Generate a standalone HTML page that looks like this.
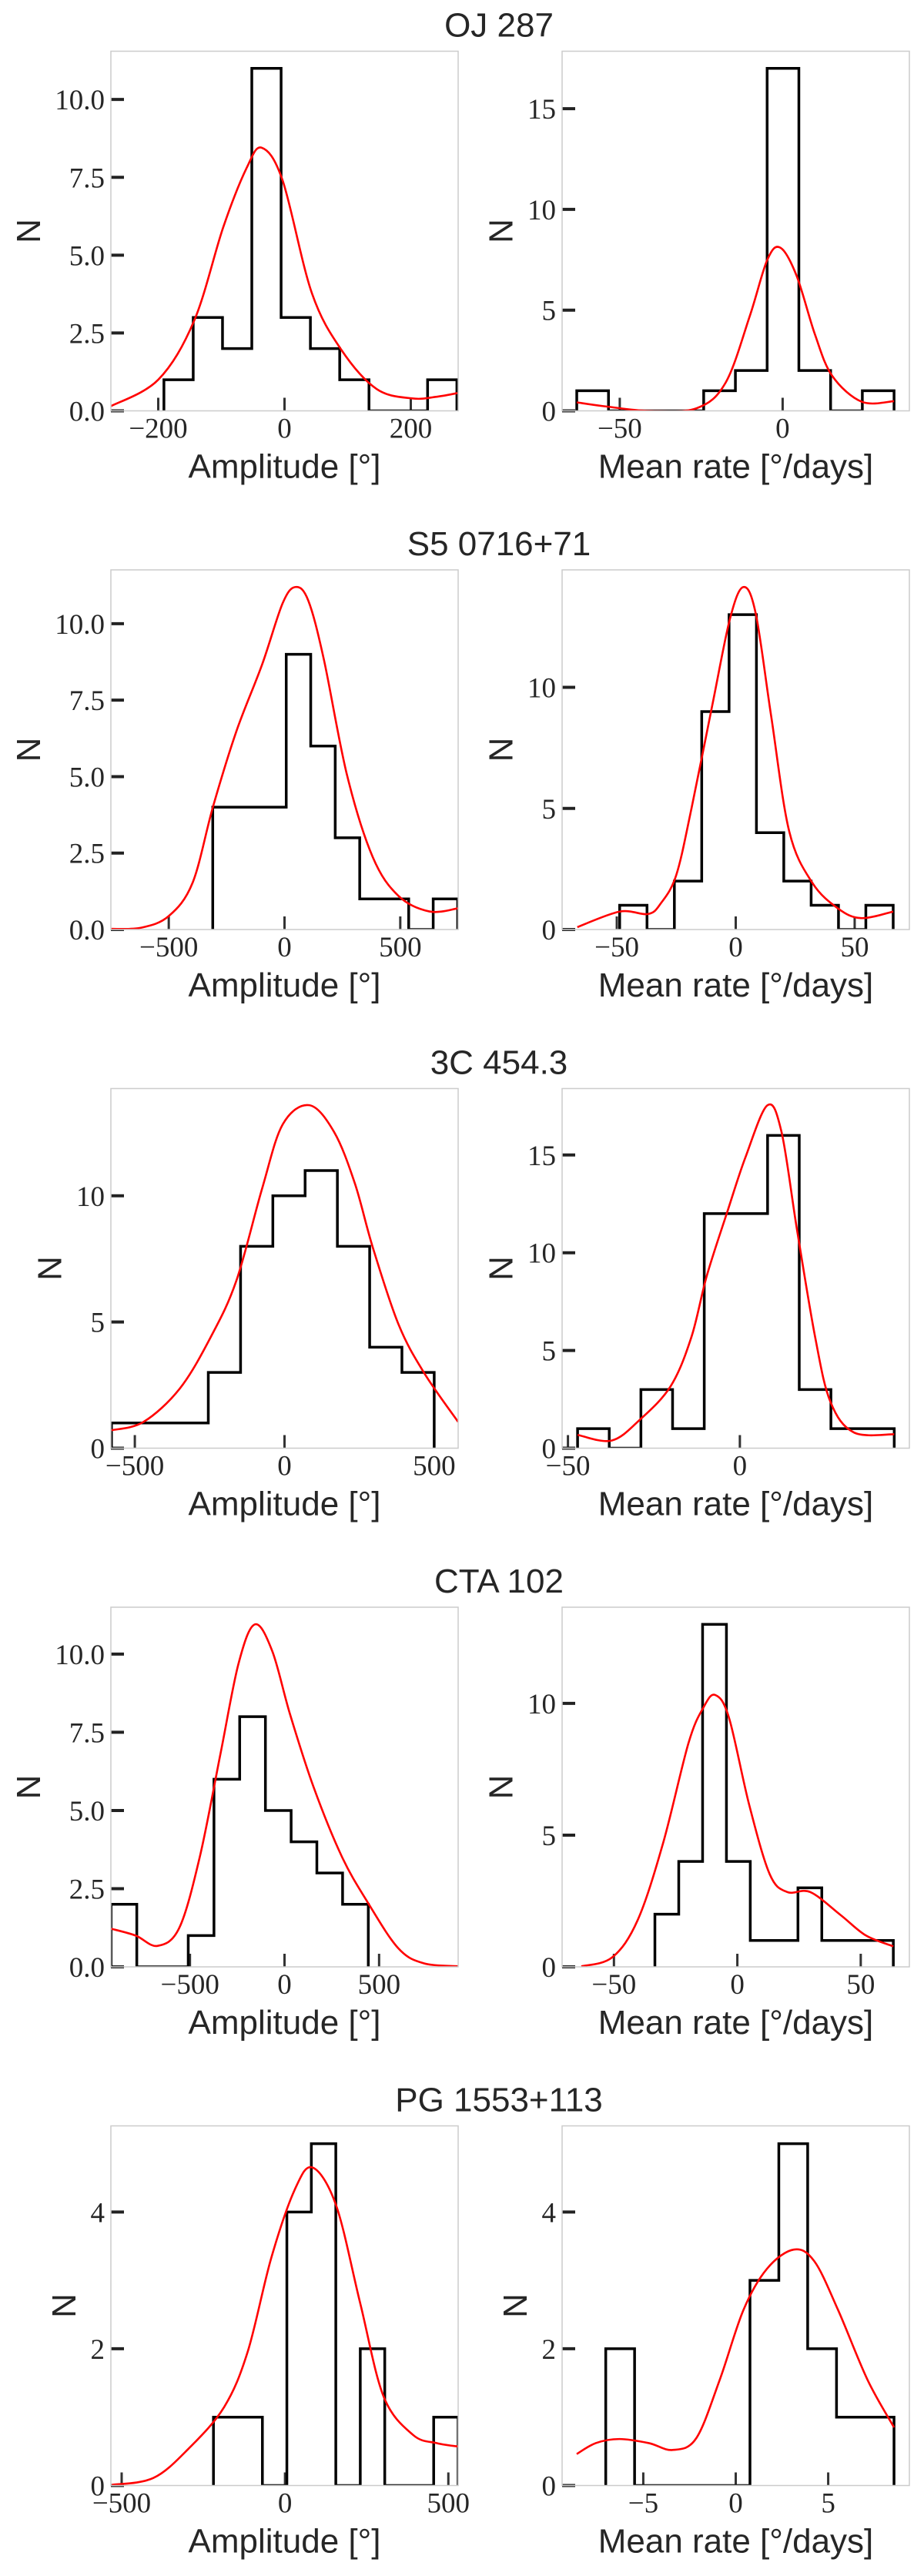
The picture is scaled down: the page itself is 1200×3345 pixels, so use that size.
<!DOCTYPE html>
<html><head><meta charset="utf-8">
<style>
html,body{margin:0;padding:0;background:#fff;}
svg{display:block;}
.tick{font-family:"Liberation Serif",serif;font-size:37px;fill:#262626;}
.lab{font-family:"Liberation Sans",sans-serif;font-size:44px;fill:#262626;}
</style></head>
<body>
<svg id="fig" xmlns="http://www.w3.org/2000/svg" width="1200" height="3345" viewBox="0 0 1200 3345"></svg>
<script>
// ---- data ----
const titles = ["OJ 287","S5 0716+71","3C 454.3","CTA 102","PG 1553+113"];

const oj287AmpEdges = [-191,-144.6,-98.2,-51.8,-5.4,41,87.4,133.8,180.2,226.6,273];
const oj287AmpCounts = [1,3,2,11,3,2,1,0,0,1];
const oj287AmpKdeX = [-276,-200,-143,-97,-60,-36,-3,43,90,146,202,240,274];
const oj287AmpKdeY = [0.14,1.0,2.9,5.9,7.8,8.45,7.4,3.8,1.96,0.7,0.4,0.45,0.57];
const oj287RateEdges = [-63.2,-53.46,-43.72,-33.98,-24.24,-14.5,-4.76,4.98,14.72,24.46,34.2];
const oj287RateCounts = [1,0,0,0,1,2,17,2,0,1];
const oj287RateKdeX = [-63.2,-53.8,-41,-26.4,-17.5,-10.1,-4.7,-0.7,4.3,9.9,15.2,24.3,34.2];
const oj287RateKdeY = [0.42,0.21,0.0,0.13,1.4,4.7,7.5,8.1,6.7,3.8,1.74,0.45,0.48];

const s5AmpEdges = [-310,-204.2,-98.4,7.4,113.2,219,324.8,430.6,536.4,642.2,748];
const s5AmpCounts = [4,4,4,9,6,3,1,1,0,1];
const s5AmpKdeX = [-749,-619,-500,-397,-308,-208,-97,-8,48,103,170,270,381,492,626,748];
const s5AmpKdeY = [0.02,0.06,0.44,1.53,4.04,6.48,8.66,10.67,11.2,10.75,8.83,5.05,2.37,1.1,0.59,0.69];
const s5RateEdges = [-48.8,-37.3,-25.8,-14.3,-2.8,8.7,20.2,31.7,43.2,54.7,66.2];
const s5RateCounts = [1,0,2,9,13,4,2,1,0,1];
const s5RateKdeX = [-66.6,-48.8,-36.9,-31.5,-25,-18.6,-9.9,-2.4,3.2,8.4,14.9,22.5,32.2,43,52.7,66.2];
const s5RateKdeY = [0.1,0.74,0.64,1.08,2.25,5.0,9.24,12.84,14.14,13.05,8.81,4.05,1.93,0.87,0.47,0.74];

const c3AmpEdges = [-578,-470.2,-362.4,-254.6,-146.8,-39,68.8,176.6,284.4,392.2,500];
const c3AmpCounts = [1,1,1,3,8,10,11,8,4,3];
const c3AmpKdeX = [-578,-471,-350,-247,-161,-75,-6,83,166,235,295,381,467,580];
const c3AmpKdeY = [0.71,1.04,2.36,4.39,6.63,10.28,12.83,13.59,12.52,10.49,7.95,4.9,2.97,1.04];
const c3RateEdges = [-47.2,-37.99,-28.78,-19.57,-10.36,-1.15,8.06,17.27,26.48,35.69,44.9];
const c3RateCounts = [1,0,3,1,12,12,16,3,1,1];
const c3RateKdeX = [-47.2,-37.3,-29,-20.1,-14.1,-9.6,-3.6,1.6,8,12.1,16.6,21.9,26.3,33.1,44.9];
const c3RateKdeY = [0.68,0.39,1.47,3.18,5.68,8.83,12.12,14.87,17.54,16.19,11.2,5.68,2.39,0.81,0.71];

const ctaAmpEdges = [-917,-781,-645,-509,-373,-237,-101,35,171,307,443];
const ctaAmpCounts = [2,0,0,1,6,8,5,4,3,2];
const ctaAmpKdeX = [-917,-787,-672,-556,-447,-338,-243,-157,-65,30,153,302,439,602,738,917];
const ctaAmpKdeY = [1.22,1.0,0.67,1.25,3.54,6.83,9.7,10.95,10.1,8.06,5.76,3.54,2.07,0.59,0.11,0.02];
const ctaRateEdges = [-33.4,-23.74,-14.08,-4.42,5.24,14.9,24.56,34.22,43.88,53.54,63.2];
const ctaRateCounts = [2,4,13,4,1,1,3,1,1,1];
const ctaRateKdeX = [-63.2,-50.7,-40.4,-30.1,-19.8,-13.7,-9,-3.4,4.8,13.1,20.2,29.5,41.8,52.1,63.2];
const ctaRateKdeY = [0.02,0.36,1.77,4.69,8.49,9.85,10.32,9.46,6.15,3.52,2.84,2.84,1.97,1.19,0.78];

const pgAmpEdges = [-219,-144.1,-69.2,5.7,80.6,155.5,230.4,305.3,380.2,455.1,530];
const pgAmpCounts = [1,1,0,4,5,0,2,0,0,1];
const pgAmpKdeX = [-530,-403,-295,-186,-114,-42,31,85,157,230,302,392,465,530];
const pgAmpKdeY = [0.01,0.11,0.54,1.15,1.96,3.33,4.34,4.65,4.09,2.67,1.3,0.74,0.62,0.57];
const pgRateEdges = [-7.03,-5.47,-3.91,-2.35,-0.79,0.77,2.33,3.89,5.45,7.01,8.56];
const pgRateCounts = [2,0,0,0,0,3,5,2,1,1];
const pgRateKdeX = [-8.6,-7.57,-6.29,-4.7,-3.42,-2.14,-0.86,0.42,1.69,3.13,4.25,5.53,7.12,8.56];
const pgRateKdeY = [0.46,0.62,0.68,0.62,0.52,0.69,1.55,2.57,3.17,3.45,3.28,2.57,1.55,0.85];

const xTicksAmp = [[-200,0,200],[-500,0,500],[-500,0,500],[-500,0,500],[-500,0,500]];
const xTicksRate = [[-50,0],[-50,0,50],[-50,0],[-50,0,50],[-5,0,5]];
const yTicksAmp = [[0,2.5,5,7.5,10],[0,2.5,5,7.5,10],[0,5,10],[0,2.5,5,7.5,10],[0,2,4]];
const yTicksRate = [[0,5,10,15],[0,5,10],[0,5,10,15],[0,5,10],[0,2,4]];
const yDecAmp = [1,1,0,1,0];
const xLimAmp = [[-275,275],[-750,750],[-580,580],[-918,918],[-533,530]];
const xLimRate = [[-67.7,38.9],[-73,73],[-51.7,49.3],[-71,69.7],[-9.39,9.39]];
const yMaxAmp = [11.55,11.76,14.25,11.5,5.26];
const yMaxRate = [17.85,14.85,18.4,13.65,5.26];

const ampData = [
 [oj287AmpEdges,oj287AmpCounts,oj287AmpKdeX,oj287AmpKdeY],
 [s5AmpEdges,s5AmpCounts,s5AmpKdeX,s5AmpKdeY],
 [c3AmpEdges,c3AmpCounts,c3AmpKdeX,c3AmpKdeY],
 [ctaAmpEdges,ctaAmpCounts,ctaAmpKdeX,ctaAmpKdeY],
 [pgAmpEdges,pgAmpCounts,pgAmpKdeX,pgAmpKdeY]];
const rateData = [
 [oj287RateEdges,oj287RateCounts,oj287RateKdeX,oj287RateKdeY],
 [s5RateEdges,s5RateCounts,s5RateKdeX,s5RateKdeY],
 [c3RateEdges,c3RateCounts,c3RateKdeX,c3RateKdeY],
 [ctaRateEdges,ctaRateCounts,ctaRateKdeX,ctaRateKdeY],
 [pgRateEdges,pgRateCounts,pgRateKdeX,pgRateKdeY]];

// ---- drawing ----
const NS = "http://www.w3.org/2000/svg";
const svg = document.getElementById("fig");
function mk(tag, attrs, parent){
  const e = document.createElementNS(NS, tag);
  for (const k in attrs) e.setAttribute(k, attrs[k]);
  (parent||svg).appendChild(e);
  return e;
}
function fmt(v, dec){
  let s = dec ? v.toFixed(1) : String(v);
  return s.replace("-", "\u2212");
}
function smoothPath(pts){
  let d = "M" + pts[0][0].toFixed(2) + "," + pts[0][1].toFixed(2);
  for (let i=0;i<pts.length-1;i++){
    const p0 = pts[Math.max(0,i-1)], p1 = pts[i], p2 = pts[i+1], p3 = pts[Math.min(pts.length-1,i+2)];
    const c1x = p1[0] + (p2[0]-p0[0])/6, c1y = p1[1] + (p2[1]-p0[1])/6;
    const c2x = p2[0] - (p3[0]-p1[0])/6, c2y = p2[1] - (p3[1]-p1[1])/6;
    d += " C" + c1x.toFixed(2)+","+c1y.toFixed(2)+" "+c2x.toFixed(2)+","+c2y.toFixed(2)+" "+p2[0].toFixed(2)+","+p2[1].toFixed(2);
  }
  return d;
}

function drawPanel(row, side, data, xlim, ymax, xticks, yticks, ydec, xlabel){
  const top = 66.5 + 673.5*row, bottom = top + 467;
  const left = side===0 ? 144 : 730, right = left + 451;
  const g = mk("g", {});
  
  
  const X = v => left + (v - xlim[0])/(xlim[1]-xlim[0])*(right-left);
  const Y = v => bottom - v/ymax*(bottom-top);
  const clipId = "clip"+row+"_"+side;
  const cp = mk("clipPath", {id: clipId}, g);
  mk("rect", {x:left, y:top-3, width:right-left, height:bottom-top+3}, cp);

  // x ticks (inside, bottom)
  xticks.forEach(t=>{
    const l = mk("line", {x1:X(t), x2:X(t), y1:bottom, y2:bottom-17, stroke:"#333", "stroke-width":3}, g);
    
    
    const tx = mk("text", {x:X(t), y:bottom+35, "text-anchor":"middle", class:"tick"}, g);
    
    
    tx.textContent = fmt(t, false);
  });
  // y ticks
  let maxW = 0;
  yticks.forEach(t=>{
    const l = mk("line", {x1:left, x2:left+17, y1:Y(t), y2:Y(t), stroke:"#222", "stroke-width":4}, g);
    
    
    const tx = mk("text", {x:left-8, y:Y(t)+13, "text-anchor":"end", class:"tick"}, g);
    
    
    tx.textContent = fmt(t, ydec);
    maxW = Math.max(maxW, tx.getComputedTextLength());
  });

  // histogram step
  const edges = data[0], counts = data[1];
  let d = "M"+X(edges[0])+","+Y(0);
  counts.forEach((c,i)=>{ d += " L"+X(edges[i])+","+Y(c)+" L"+X(edges[i+1])+","+Y(c); });
  d += " L"+X(edges[edges.length-1])+","+Y(0);
  const h = mk("path", {d:d, fill:"none", stroke:"#000", "stroke-width":3.5, "stroke-linejoin":"miter", "clip-path":"url(#"+clipId+")"}, g);
  
  

  // kde
  const pts = data[2].map((x,i)=>[X(x), Y(data[3][i])]);
  const k = mk("path", {d:smoothPath(pts), fill:"none", stroke:"#ff0000", "stroke-width":2.6, "clip-path":"url(#"+clipId+")"}, g);
  
  

  // frame
  const fr = mk("rect", {x:left, y:top, width:right-left, height:bottom-top, fill:"none", stroke:"#cccccc", "stroke-width":1.5}, g);
  
  

  // labels
  const xl = mk("text", {x:(left+right)/2, y:bottom+87, "text-anchor":"middle", class:"lab"}, g);
  
  
  xl.textContent = xlabel;
  const nx = left - 8 - maxW - 34;
  const ny = (top+bottom)/2;
  const yl = mk("text", {x:nx, y:ny, "text-anchor":"middle", "dominant-baseline":"central", class:"lab", transform:"rotate(-90 "+nx+" "+ny+")"}, g);
  
  
  yl.textContent = "N";
}

for (let r=0;r<5;r++){
  const top = 66.5 + 673.5*r;
  const t = mk("text", {x:648, y:top-19, "text-anchor":"middle", class:"lab"});
  
  
  t.textContent = titles[r];
  drawPanel(r,0,ampData[r],xLimAmp[r],yMaxAmp[r],xTicksAmp[r],yTicksAmp[r],yDecAmp[r],"Amplitude [\u00b0]");
  drawPanel(r,1,rateData[r],xLimRate[r],yMaxRate[r],xTicksRate[r],yTicksRate[r],0,"Mean rate [\u00b0/days]");
}
</script>
</body></html>
